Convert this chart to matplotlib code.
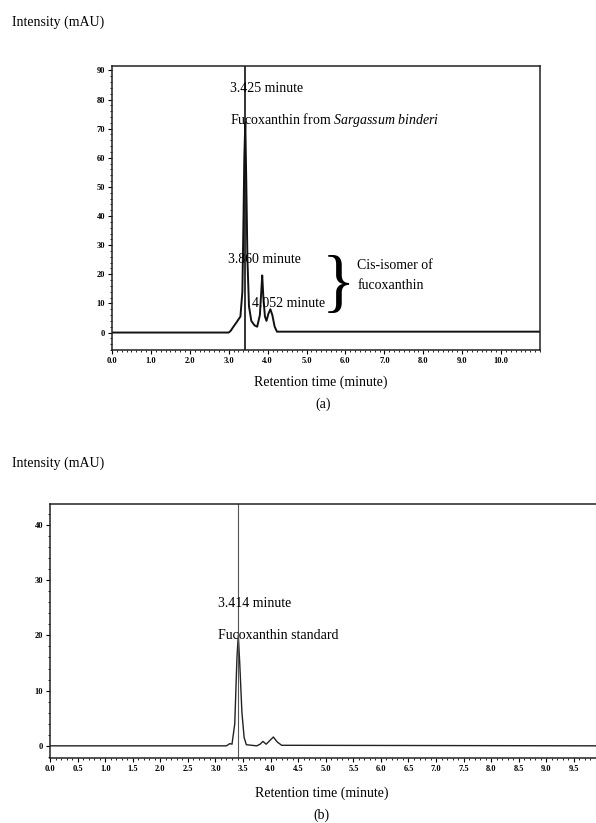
import numpy as np
import matplotlib
matplotlib.use("Agg")
import matplotlib.pyplot as plt
from matplotlib.ticker import MultipleLocator, FixedLocator, FormatStrFormatter

plt.rcParams["font.family"] = ["Liberation Serif", "DejaVu Serif"]
plt.rcParams["mathtext.fontset"] = "custom"
plt.rcParams["mathtext.rm"] = "Liberation Serif"
plt.rcParams["mathtext.it"] = "Liberation Serif:italic"

# Chromatogram (a): Sargassum binderi extract
time_a = [0.0, 3.00, 3.05, 3.12, 3.20, 3.30, 3.35, 3.38, 3.40, 3.425, 3.45,
          3.48, 3.52, 3.58, 3.66, 3.73, 3.80, 3.84, 3.86, 3.89, 3.93, 3.97,
          4.02, 4.07, 4.12, 4.18, 4.24, 11.0]
intensity_a = [0.0, 0.0, 0.6, 2.0, 3.5, 5.5, 14.0, 40.0, 60.0, 72.0, 52.0,
               25.0, 9.0, 4.0, 2.5, 2.0, 6.0, 15.0, 19.6, 12.0, 5.5, 4.0,
               6.5, 8.0, 6.0, 2.0, 0.3, 0.3]
peak_a = 3.425

# Chromatogram (b): fucoxanthin standard
time_b = [0.0, 3.20, 3.26, 3.30, 3.35, 3.39, 3.414, 3.44, 3.48, 3.52, 3.56,
          3.75, 3.81, 3.86, 3.92, 3.97, 4.05, 4.12, 4.20, 9.9]
intensity_b = [0.0, 0.0, 0.4, 0.3, 4.0, 16.0, 20.0, 15.0, 6.0, 1.5, 0.2,
               0.0, 0.3, 0.8, 0.3, 0.8, 1.6, 0.7, 0.1, 0.0]
peak_b = 3.414

xticks_a = [0.0, 1.0, 2.0, 3.0, 4.0, 5.0, 6.0, 7.0, 8.0, 9.0, 10.0]


def style_axes(ax, xmajor, xminor, ymajor, yminor):
    if xmajor is not None:
        ax.xaxis.set_major_locator(xmajor)
    ax.xaxis.set_minor_locator(MultipleLocator(xminor))
    ax.yaxis.set_major_locator(MultipleLocator(ymajor))
    ax.yaxis.set_minor_locator(MultipleLocator(yminor))
    ax.xaxis.set_major_formatter(FormatStrFormatter("%.1f"))
    ax.yaxis.set_major_formatter(FormatStrFormatter("%d"))
    ax.tick_params(which="major", direction="out", length=3, width=0.8,
                   labelsize=6, pad=2)
    ax.tick_params(which="minor", direction="out", length=1.5, width=0.6)
    for lab in ax.get_xticklabels() + ax.get_yticklabels():
        lab.set_fontweight("bold")
    for sp in ax.spines.values():
        sp.set_linewidth(1.1)
        sp.set_color("#222222")


fig = plt.figure(figsize=(5.96, 8.23), dpi=100)

# Panel (a)
ax1 = fig.add_axes([0.188, 0.5747, 0.718, 0.3451])
ax1.plot(time_a, intensity_a, color="#111111", lw=1.4)
ax1.axvline(peak_a, color="#111111", lw=1.2)
ax1.set_xlim(0, 11.0)
ax1.set_ylim(-6, 91.5)
style_axes(ax1, FixedLocator(xticks_a), 0.125, 10, 2)

ax1.text(3.02, 83.8, "3.425 minute", fontsize=10, va="center")
ax1.text(3.02, 72.9, r"Fucoxanthin from $\it{Sargassum\ binderi}$",
         fontsize=10, va="center")
ax1.text(2.99, 25.0, "3.860 minute", fontsize=10, va="center")
ax1.text(3.60, 10.0, "4.052 minute", fontsize=10, va="center")
ax1.text(5.40, 15.5, "}", fontsize=50, va="center", ha="left",
         fontweight="light")
ax1.text(6.30, 23.0, "Cis-isomer of", fontsize=10, va="center")
ax1.text(6.30, 16.0, "fucoxanthin", fontsize=10, va="center")

fig.text(0.020, 0.973, "Intensity (mAU)", fontsize=10, va="center")
fig.text(0.539, 0.536, "Retention time (minute)", fontsize=10,
         ha="center", va="center")
fig.text(0.542, 0.509, "(a)", fontsize=10, ha="center", va="center")

# Panel (b)
ax2 = fig.add_axes([0.0839, 0.0790, 0.9161, 0.3086])
ax2.plot(time_b, intensity_b, color="#222222", lw=1.0)
ax2.axvline(peak_b, color="#555555", lw=0.8)
ax2.set_xlim(0, 9.9)
ax2.set_ylim(-2.2, 43.8)
ax2.spines["right"].set_visible(False)
style_axes(ax2, MultipleLocator(0.5), 0.1, 10, 2)

ax2.text(3.04, 25.7, "3.414 minute", fontsize=10, va="center")
ax2.text(3.04, 19.9, "Fucoxanthin standard", fontsize=10, va="center")

fig.text(0.020, 0.437, "Intensity (mAU)", fontsize=10, va="center")
fig.text(0.540, 0.0365, "Retention time (minute)", fontsize=10,
         ha="center", va="center")
fig.text(0.539, 0.0097, "(b)", fontsize=10, ha="center", va="center")

fig.savefig("out.png", dpi=100)
